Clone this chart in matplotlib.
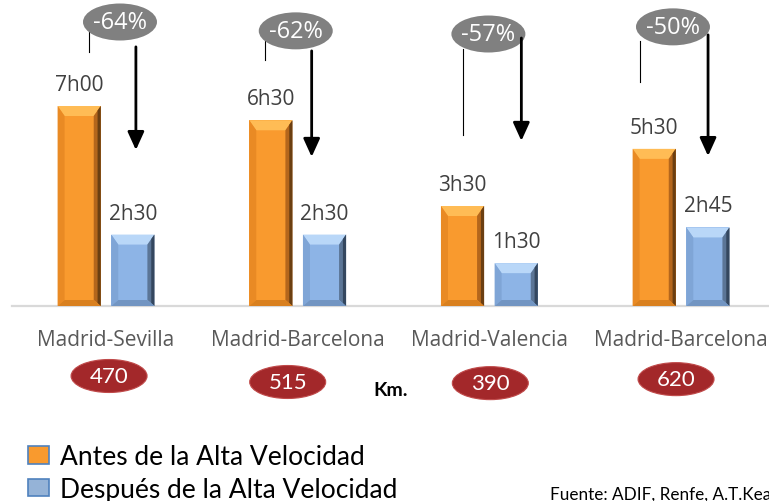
import matplotlib
matplotlib.use('Agg')
import matplotlib.pyplot as plt
from matplotlib.patches import Ellipse, Polygon, Patch

# data
routes = ['Madrid-Sevilla', 'Madrid-Barcelona', 'Madrid-Valencia', 'Madrid-Barcelona']
hours_before = [7.0, 6.5, 3.5, 5.5]
hours_after = [2.5, 2.5, 1.5, 2.75]
distance_km = [470, 515, 390, 620]
legend_labels = ['Antes de la Alta Velocidad', 'Después de la Alta Velocidad']
source_text = 'Fuente: ADIF, Renfe, A.T.Kearney'


def fmt_hours(h):
    return f"{int(h)}h{int(round((h % 1) * 60)):02d}"


# layout of the annotation bits (data units, relative to group centre)
bubble_dx = [0.073, -0.010, -0.005, -0.042]
bubble_y = [9.94, 9.63, 9.52, 9.77]
tick_dx = [-0.089, -0.172, -0.136, -0.214]
tick_y = [(8.89, 9.63), (8.61, 9.42), (5.99, 9.0), (7.84, 9.28)]
arrow_dx = [0.156, 0.073, 0.167, 0.141]
arrow_y = [(9.07, 5.46), (8.93, 5.22), (9.38, 5.78), (9.49, 5.25)]
km_dx = [0.016, -0.052, 0.005, -0.026]
km_y = [-2.45, -2.66, -2.70, -2.56]

orange = dict(main='#F99A2E', top='#FFBC55', left='#E98A24', right='#B4661C', edge='#6B3F12', bottom='#D9801F')
blue = dict(main='#8DB4E6', top='#B9D7F8', left='#7FA5D6', right='#5B7596', edge='#34475F', bottom='#7295C2')

fig = plt.figure(figsize=(7.69, 5.02), dpi=100)
ax = fig.add_axes([0, 0, 1, 1])
ax.set_xlim(-0.553, 3.459)
ax.set_ylim(-6.825, 10.745)
ax.axis('off')

x = list(range(len(routes)))
w = 0.225
off = 0.14
bars_b = ax.bar([i - off for i in x], hours_before, width=w, color=orange['main'], zorder=2)
bars_a = ax.bar([i + off for i in x], hours_after, width=w, color=blue['main'], zorder=2)

# bevel look on the bars
bx = 7 / 191.7
by = 10 / 28.57
for bars, c in [(bars_b, orange), (bars_a, blue)]:
    for r in bars:
        x0, x1, h = r.get_x(), r.get_x() + r.get_width(), r.get_height()
        polys = [
            ([(x0, h), (x1, h), (x1 - bx, h - by), (x0 + bx, h - by)], c['top']),
            ([(x0, 0), (x0 + bx, by * 0.6), (x0 + bx, h - by), (x0, h)], c['left']),
            ([(x1, 0), (x1 - bx, by * 0.6), (x1 - bx, h - by), (x1, h)], c['right']),
            ([(x1, 0), (x1 - bx * 0.45, by * 0.3), (x1 - bx * 0.45, h - by * 0.45), (x1, h)], c['edge']),
            ([(x0, 0), (x1, 0), (x1 - bx, by * 0.6), (x0 + bx, by * 0.6)], c['bottom']),
        ]
        for pts, col in polys:
            ax.add_patch(Polygon(pts, closed=True, facecolor=col, edgecolor='none', zorder=3))

ax.plot([-0.49, 3.459], [0, 0], color='#D9D9D9', lw=1.6, zorder=1)

# value labels
for bars, vals in [(bars_b, hours_before), (bars_a, hours_after)]:
    for r, v in zip(bars, vals):
        ax.annotate(fmt_hours(v), (r.get_x() + r.get_width() / 2, v), xytext=(0, 11.5),
                    textcoords='offset points', ha='center', va='baseline',
                    fontsize=15, family='Open Sans', color='#404040')

# route names
for i, name in enumerate(routes):
    ax.text(i, -1.155, name, ha='center', va='center', fontsize=15, family='Open Sans', color='#595959')

# percent bubbles, ticks and arrows
for i in x:
    pct = round((hours_after[i] - hours_before[i]) / hours_before[i] * 100)
    ax.plot([i + tick_dx[i]] * 2, tick_y[i], color='black', lw=0.8, zorder=4)
    cx = i + bubble_dx[i]
    ax.add_patch(Ellipse((cx, bubble_y[i]), 74 / 191.7, 37 / 28.57, facecolor='#808080',
                         edgecolor='none', zorder=5))
    ax.text(cx, bubble_y[i], f"{pct}%", ha='center', va='center', fontsize=17,
            family='Open Sans', color='white', zorder=6)
    ax.annotate('', xy=(i + arrow_dx[i], arrow_y[i][1]), xytext=(i + arrow_dx[i], arrow_y[i][0]),
                arrowprops=dict(arrowstyle='-|>,head_length=0.55,head_width=0.25', color='black',
                                lw=2, mutation_scale=20, shrinkA=0, shrinkB=0), zorder=7)

# distance ellipses
for i, km in enumerate(distance_km):
    cx = i + km_dx[i]
    ax.add_patch(Ellipse((cx, km_y[i]), 76 / 191.7, 33 / 28.57, facecolor='#A3282A',
                         edgecolor='#C04A4A', lw=0.8, zorder=5))
    ax.text(cx, km_y[i], str(km), ha='center', va='center', fontsize=16, family='Lato',
            color='white', zorder=6)

ax.text(1.487, -2.94, 'Km.', ha='center', va='center', fontsize=14, family='Lato',
        fontweight='bold', color='black')

handles = [Patch(facecolor=orange['main'], edgecolor='#4F81BD', lw=1.2),
           Patch(facecolor='#95B3D7', edgecolor='#4F81BD', lw=1.2)]
ax.legend(handles, legend_labels, loc='upper left', bbox_to_anchor=(28 / 769, 1 - 445 / 502),
          bbox_transform=fig.transFigure, frameon=False, prop=dict(family='Lato', size=19),
          handlelength=0.8, handleheight=0.65, handletextpad=0.4, labelspacing=0.3,
          borderpad=0, borderaxespad=0)

# source note runs off the right edge, as in the original
ax.text(2.316, -6.755, source_text, ha='left', va='baseline', fontsize=12.3, family='Lato', color='black')

fig.savefig('out.png', dpi=100)
